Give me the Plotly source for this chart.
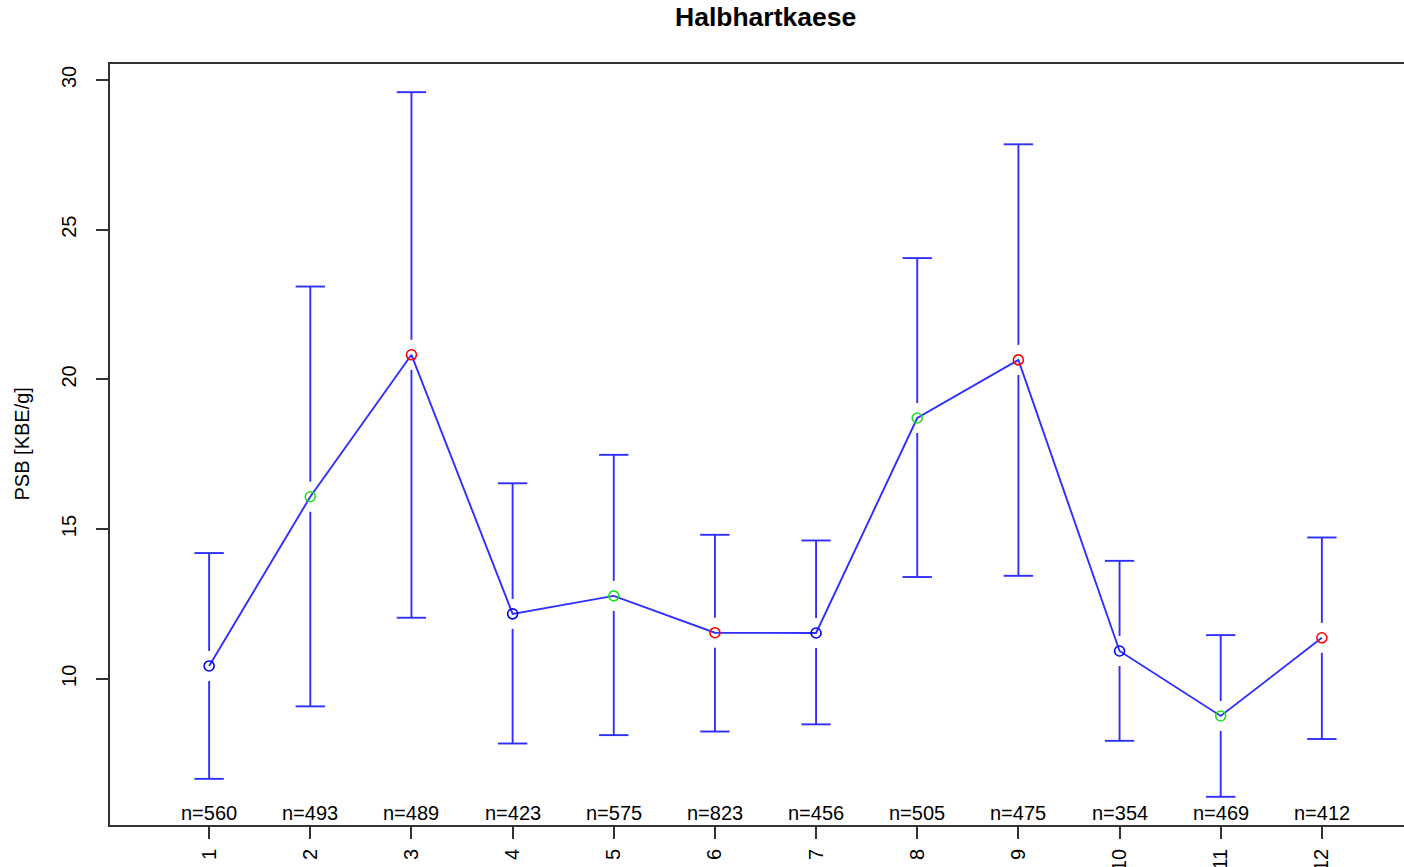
import plotly.graph_objects as go

# Monthly PSB counts for semi-hard cheese: group means with confidence limits
groups = [1, 2, 3, 4, 5, 6, 7, 8, 9, 10, 11, 12]
means = [10.43, 16.08, 20.82, 12.17, 12.77, 11.54, 11.53, 18.71, 20.65, 10.93, 8.76, 11.37]
upper = [14.20, 23.10, 29.59, 16.53, 17.48, 14.81, 14.62, 24.05, 27.85, 13.94, 11.46, 14.72]
lower = [6.66, 9.08, 12.04, 7.84, 8.12, 8.24, 8.48, 13.40, 13.44, 7.93, 6.06, 7.99]
n_obs = [560, 493, 489, 423, 575, 823, 456, 505, 475, 354, 469, 412]
tick_labels = [str(g) for g in groups]

W, H = 1404, 867
M_L, M_R, M_T, M_B = 110, 0, 64, 42
plot_w = W - M_L - M_R
plot_h = H - M_T - M_B

# R-style axis limits: data range padded by 4 %
lo, hi = min(lower), max(upper)
pad = (hi - lo) * 0.04
y_range = [lo - pad, hi + pad]
x_full = [0.5 - 0.48, len(groups) + 0.5 + 0.48]
full_w = plot_w + 17                      # full plotting box runs a little past the page edge
px_per_x = full_w / (x_full[1] - x_full[0])
x_range = [x_full[0], x_full[0] + plot_w / px_per_x]

gap = 15 * (y_range[1] - y_range[0]) / plot_h   # space left around each circle
cap = 0.145                                      # half width of the bar caps

point_cols = ["#0000ff", "#22dd22", "#ff0000"]
bar_col = "#2f2fff"

bx, by = [], []
for g, m, u, l in zip(groups, means, upper, lower):
    bx += [g, g, None, g, g, None]
    by += [m + gap, u, None, m - gap, l, None]
    bx += [g - cap, g + cap, None, g - cap, g + cap, None]
    by += [u, u, None, l, l, None]

fig = go.Figure()
fig.add_trace(go.Scatter(x=bx, y=by, mode="lines",
                         line=dict(color=bar_col, width=1.9),
                         hoverinfo="skip", showlegend=False))
fig.add_trace(go.Scatter(x=groups, y=means, mode="lines",
                         line=dict(color=bar_col, width=1.9),
                         showlegend=False))
fig.add_trace(go.Scatter(x=groups, y=means, mode="markers",
                         marker=dict(symbol="circle-open", size=10,
                                     color=[point_cols[i % 3] for i in range(len(groups))],
                                     line=dict(width=1.6)),
                         showlegend=False))

for g, n in zip(groups, n_obs):
    fig.add_annotation(x=g, y=0, xref="x", yref="paper", text=f"n={n}",
                       showarrow=False, yanchor="bottom", yshift=-1,
                       font=dict(size=20, color="black"))

# title centred over the full plotting box
fig.add_annotation(x=(full_w / 2) / plot_w, y=1, xref="paper", yref="paper",
                   yanchor="bottom", yshift=30, xanchor="center", showarrow=False,
                   text="<b>Halbhartkaese</b>", font=dict(size=26.5, color="black"))

# y-axis title
fig.add_annotation(x=(21 - M_L) / plot_w, y=0.5, xref="paper", yref="paper",
                   xanchor="center", yanchor="middle", showarrow=False, textangle=-90,
                   text="PSB [KBE/g]", font=dict(size=20, color="black"))

axis_font = dict(family="Liberation Sans, Arial, sans-serif", size=20, color="black")
fig.update_layout(
    width=W, height=H,
    margin=dict(l=M_L, r=M_R, t=M_T, b=M_B, autoexpand=False),
    paper_bgcolor="white", plot_bgcolor="white",
    font=dict(family="Liberation Sans, Arial, sans-serif", color="black"),
    xaxis=dict(range=x_range, tickmode="array", tickvals=groups, ticktext=tick_labels,
               tickangle=-90, ticks="outside", ticklen=12, tickwidth=1.5,
               tickcolor="#333", showline=True, linecolor="#333", linewidth=1.8,
               mirror=True, showgrid=False, zeroline=False, tickfont=axis_font,
               ticklabelstandoff=2, automargin=False),
    yaxis=dict(range=y_range, tickmode="array", tickvals=[10, 15, 20, 25, 30],
               tickangle=-90, ticks="outside", ticklen=12, tickwidth=1.5,
               tickcolor="#333", showline=True, linecolor="#333", linewidth=1.8,
               showgrid=False, zeroline=False, tickfont=axis_font,
               ticklabelstandoff=12, automargin=False),
)

fig.write_html("out.html")
